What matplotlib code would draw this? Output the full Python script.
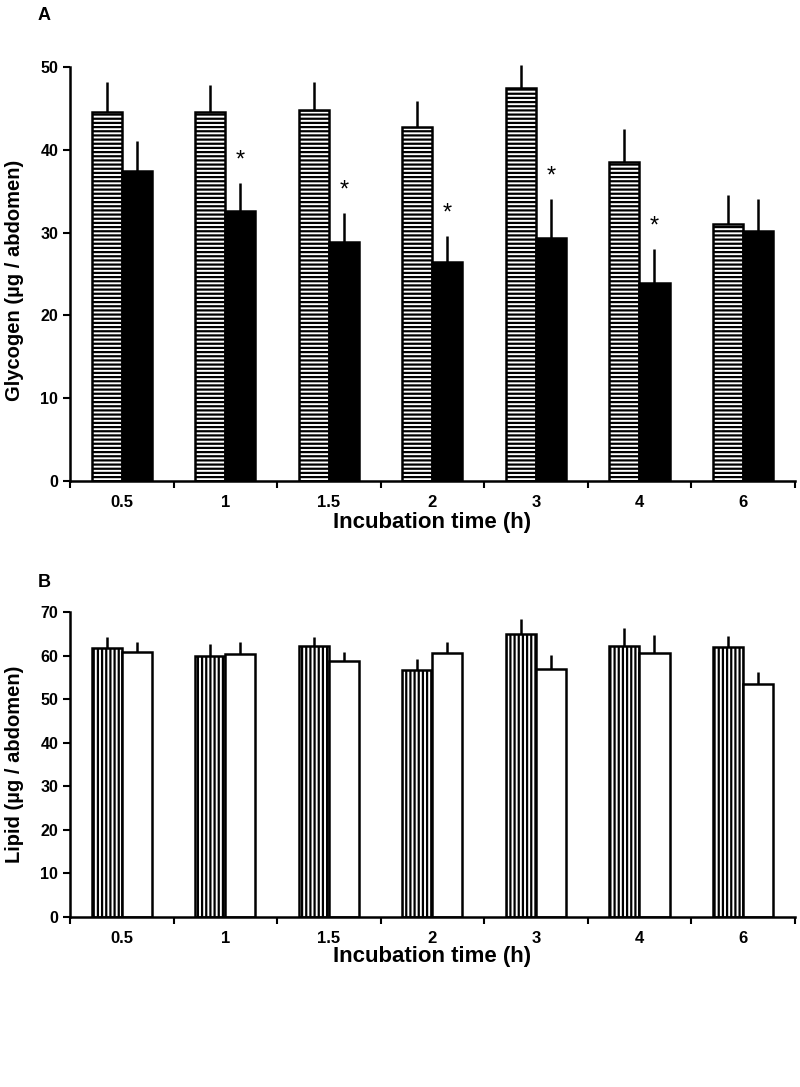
import numpy as np
import matplotlib
matplotlib.use("Agg")
import matplotlib.pyplot as plt

plt.rcParams['font.family'] = ['Liberation Sans', 'DejaVu Sans']
plt.rcParams['font.weight'] = 'bold'
plt.rcParams['hatch.linewidth'] = 1.6

times = ['0.5', '1', '1.5', '2', '3', '4', '6']

# Panel A - glycogen
gly_ctrl = [44.6, 44.5, 44.8, 42.7, 47.5, 38.5, 31.0]
gly_ctrl_err = [3.6, 3.3, 3.4, 3.2, 2.7, 4.0, 3.5]
gly_trt = [37.4, 32.6, 28.9, 26.4, 29.3, 23.9, 30.2]
gly_trt_err = [3.7, 3.4, 3.5, 3.2, 4.7, 4.1, 3.8]
gly_sig = [False, True, True, True, True, True, False]

# Panel B - lipid
lip_ctrl = [61.8, 60.0, 62.1, 56.6, 65.0, 62.3, 62.0]
lip_ctrl_err = [2.5, 2.7, 2.2, 2.6, 3.3, 4.1, 2.5]
lip_trt = [60.8, 60.4, 58.7, 60.6, 56.8, 60.6, 53.5]
lip_trt_err = [2.4, 2.8, 2.2, 2.6, 3.3, 4.1, 2.7]


def draw_panel(ax, ctrl, ctrl_err, trt, trt_err, hatch, trt_color, ymax, ylabel,
               xlab_y, ylab_y, sig=None):
    x = np.arange(len(times))
    w = 0.29
    ax.bar(x - w / 2, ctrl, w, color='white', edgecolor='black', hatch=hatch, linewidth=1.8)
    ax.bar(x + w / 2, trt, w, color=trt_color, edgecolor='black', linewidth=1.8)
    # upward-only error bars
    for xs, vals, errs in [(x - w / 2, ctrl, ctrl_err), (x + w / 2, trt, trt_err)]:
        eb = ax.errorbar(xs, vals, yerr=[np.zeros(len(x)), errs], fmt='none',
                         ecolor='black', elinewidth=1.8, capsize=0)
        for c in eb.lines[2]:
            c.set_clip_on(False)
    if sig is not None:
        for i, s in enumerate(sig):
            if s:
                ax.text(x[i] + w / 2, trt[i] + trt_err[i] + 2.7, '*', ha='center', va='center',
                        fontsize=17, fontweight='normal')
    ax.set_xlim(-0.5, len(times) - 0.5)
    ax.set_ylim(0, ymax)
    ax.set_yticks(np.arange(0, ymax + 1, 10))
    ax.set_xticks(np.arange(len(times) + 1) - 0.5)
    ax.set_xticklabels([])
    ax.set_xticks(x, minor=True)
    ax.set_xticklabels(times, minor=True)
    ax.tick_params(axis='x', which='minor', length=0, pad=10, labelsize=12)
    ax.tick_params(axis='both', which='major', direction='out', length=5, width=1.5, labelsize=11.5)
    for side in ['top', 'right']:
        ax.spines[side].set_visible(False)
    for side in ['left', 'bottom']:
        ax.spines[side].set_linewidth(1.8)
    ax.set_xlabel('Incubation time (h)', fontsize=16, fontweight='bold')
    ax.set_ylabel(ylabel, fontsize=14.5, fontweight='bold')
    ax.xaxis.set_label_coords(0.5, xlab_y)
    ax.yaxis.set_label_coords(-0.064, ylab_y)


fig = plt.figure(figsize=(8, 10.87), dpi=100)
axA = fig.add_axes([0.0875, 0.5575, 0.906, 0.381])
axB = fig.add_axes([0.0875, 0.1564, 0.906, 0.2806])

draw_panel(axA, gly_ctrl, gly_ctrl_err, gly_trt, gly_trt_err, '----', 'black', 50,
           'Glycogen (µg / abdomen)', -0.075, 0.485, sig=gly_sig)
draw_panel(axB, lip_ctrl, lip_ctrl_err, lip_trt, lip_trt_err, '||||', 'white', 70,
           'Lipid (µg / abdomen)', -0.095, 0.5)

fig.text(0.047, 0.986, 'A', fontsize=13, fontweight='bold', va='center')
fig.text(0.047, 0.464, 'B', fontsize=13, fontweight='bold', va='center')

fig.savefig('out.png', dpi=100)
